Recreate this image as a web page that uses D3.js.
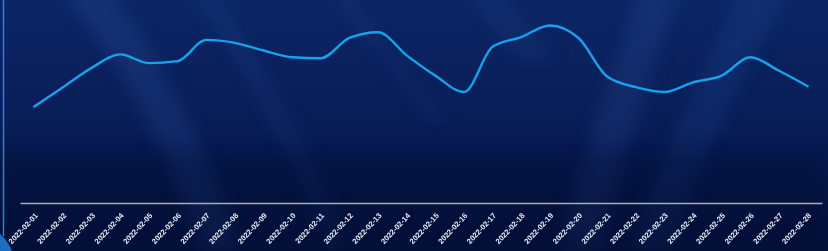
<!DOCTYPE html>
<html lang="en">
<head>
    <meta charset="UTF-8">
    <title>Daily trend</title>
    <script src="https://d3js.org/d3.v7.min.js"></script>
    <style>
        html, body { margin: 0; padding: 0; background: #06143f; overflow: hidden; }
        svg { display: block; }
        .tick text {
            font-family: "Liberation Sans", Arial, sans-serif;
            font-size: 7.6px;
            font-weight: bold;
            fill: #e6ebf7;
        }
    </style>
</head>
<body>
    <script>
        const width = 828;
        const height = 251;

        // categories (x axis)
        const dates = d3.range(1, 29).map(d => "2022-02-" + String(d).padStart(2, "0"));
        // series values
        const values = [50, 60, 70, 77, 72.5, 73.5, 84.5, 83, 79, 75.5, 75, 85.5, 88.5, 76.5,
                        66, 57.5, 81, 86, 92, 85.5, 65.5, 60, 57.5, 62.5, 66, 75.5, 68.5, 60.5];

        const margin = {top: 10, right: 6, bottom: 48, left: 20};

        const svg = d3.select("body").append("svg")
            .attr("width", width)
            .attr("height", height);

        const defs = svg.append("defs");

        // background gradient
        const bg = defs.append("linearGradient")
            .attr("id", "bg")
            .attr("x1", 0).attr("y1", 0).attr("x2", 0).attr("y2", 1);
        bg.append("stop").attr("offset", "0%").attr("stop-color", "#0c2665");
        bg.append("stop").attr("offset", "55%").attr("stop-color", "#081c55");
        bg.append("stop").attr("offset", "100%").attr("stop-color", "#040f38");

        defs.append("filter")
            .attr("id", "blur")
            .attr("x", "-50%").attr("y", "-50%").attr("width", "200%").attr("height", "200%")
            .append("feGaussianBlur")
            .attr("stdDeviation", 9);

        svg.append("rect")
            .attr("width", width)
            .attr("height", height)
            .attr("fill", "url(#bg)");

        // soft light streaks in the background
        const streaks = svg.append("g").attr("filter", "url(#blur)");
        const streakData = [
            {d: "M60,-10 C120,60 170,150 200,250 L240,250 C210,150 160,60 110,-10 Z", o: 0.18},
            {d: "M190,-10 C240,60 290,150 330,250 L350,250 C310,150 260,60 215,-10 Z", o: 0.12},
            {d: "M330,-10 C360,40 400,80 430,120 L450,120 C420,80 380,40 350,-10 Z", o: 0.08},
            {d: "M640,-10 C610,80 580,160 560,250 L600,250 C620,160 650,80 680,-10 Z", o: 0.16},
            {d: "M740,-10 C700,80 660,160 630,250 L670,250 C700,160 740,80 790,-10 Z", o: 0.14},
            {d: "M470,-10 C480,20 500,40 520,60 L560,60 C540,40 520,20 500,-10 Z", o: 0.1}
        ];
        streaks.selectAll("path")
            .data(streakData)
            .enter().append("path")
            .attr("d", d => d.d)
            .attr("fill", "#3a6bc0")
            .attr("opacity", d => d.o);

        // dark band behind the lower part
        svg.append("rect")
            .attr("x", 0).attr("y", 150)
            .attr("width", width).attr("height", 101)
            .attr("fill", "#030c30")
            .attr("opacity", 0.35)
            .attr("filter", "url(#blur)");

        // left edge line and corner shape
        svg.append("line")
            .attr("x1", 3.5).attr("x2", 3.5)
            .attr("y1", 0).attr("y2", 236)
            .attr("stroke", "#1f86d8")
            .attr("stroke-width", 1.5);
        svg.append("path")
            .attr("d", "M0,251 L0,234 C5,238 9,244 12,251 Z")
            .attr("fill", "#1f6cc0");

        const x = d3.scaleBand()
            .domain(dates)
            .range([margin.left, width - margin.right]);

        const y = d3.scaleLinear()
            .domain([0, 100])
            .range([height - margin.bottom, margin.top]);

        // x axis
        const xAxis = svg.append("g")
            .attr("transform", `translate(0,${height - margin.bottom})`)
            .call(d3.axisBottom(x).tickSize(0).tickPadding(0));

        xAxis.select(".domain")
            .attr("stroke", "#a9adb8")
            .attr("stroke-width", 1.6);

        xAxis.selectAll(".tick text")
            .attr("text-anchor", "end")
            .attr("dy", 0)
            .attr("transform", "translate(4,13) rotate(-47)");

        // line
        const line = d3.line()
            .x((d, i) => x(dates[i]) + x.bandwidth() / 2)
            .y(d => y(d))
            .curve(d3.curveMonotoneX);

        svg.append("path")
            .datum(values)
            .attr("fill", "none")
            .attr("stroke", "#17a2ec")
            .attr("stroke-width", 2.4)
            .attr("stroke-linejoin", "round")
            .attr("stroke-linecap", "round")
            .attr("d", line);
    </script>
</body>
</html>
